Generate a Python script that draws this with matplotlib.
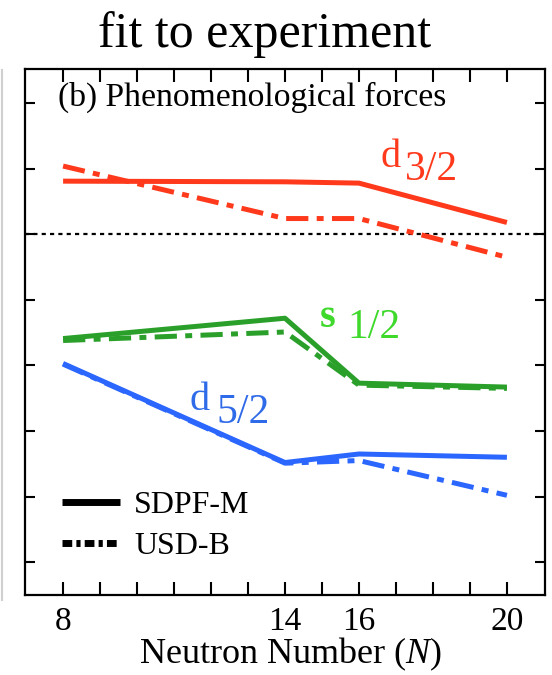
import matplotlib
matplotlib.use("Agg")
import matplotlib.pyplot as plt
from matplotlib.lines import Line2D

plt.rcParams['font.family'] = ['Liberation Serif', 'DejaVu Serif']
plt.rcParams['mathtext.fontset'] = 'custom'
plt.rcParams['mathtext.rm'] = 'Liberation Serif'
plt.rcParams['mathtext.it'] = 'Liberation Serif:italic'
plt.rcParams['lines.scale_dashes'] = False

# data (single-particle energies vs neutron number)
N = [8, 14, 16, 20]
d32_sdpfm = [0.81, 0.80, 0.78, 0.18]
d32_usdb = [1.04, 0.24, 0.24, -0.35]
s12_sdpfm = [-1.59, -1.28, -2.27, -2.33]
s12_usdb = [-1.62, -1.49, -2.30, -2.35]
d52_sdpfm = [-1.97, -3.48, -3.35, -3.40]
d52_usdb = [-1.98, -3.49, -3.45, -3.98]

xticks = list(range(8, 21))
xtick_labels = ['8', '', '', '', '', '', '14', '', '16', '', '', '', '20']
yticks = list(range(-5, 3))

RED = '#ff3a1c'
GREEN = '#2aa02a'
GREEN_TXT = '#3fd92c'
BLUE = '#2b66ff'
BLUE_TXT = '#2f6ae8'

DASHDOT = (0, (16, 6, 5, 6))
LW = 3.6

fig = plt.figure(figsize=(5.52, 6.75), dpi=100)
ax = fig.add_axes([25 / 552, 1 - 595 / 675, 520 / 552, 526 / 675])

ax.axhline(0, color='black', lw=1.6, linestyle=(0, (3, 3)), zorder=1)

ax.plot(N, d32_sdpfm, color=RED, lw=LW, solid_capstyle='butt')
ax.plot(N, d32_usdb, color=RED, lw=LW, linestyle=DASHDOT)
ax.plot(N, s12_sdpfm, color=GREEN, lw=LW, solid_capstyle='butt')
ax.plot(N, s12_usdb, color=GREEN, lw=LW, linestyle=DASHDOT)
ax.plot(N, d52_sdpfm, color=BLUE, lw=LW, solid_capstyle='butt')
ax.plot(N, d52_usdb, color=BLUE, lw=LW, linestyle=DASHDOT)

ax.set_xlim(6.97, 21.03)
ax.set_ylim(-5.5, 2.52)
ax.set_xticks(xticks)
ax.set_xticklabels(xtick_labels)
ax.set_yticks(yticks)
ax.set_yticklabels([])
ax.tick_params(axis='x', direction='in', length=9.5, width=1.5, labelsize=24,
               pad=8, top=True)
ax.tick_params(axis='y', direction='in', length=7, width=1.5, right=True)
for s in ax.spines.values():
    s.set_linewidth(1.6)

# orbit labels
ax.text(16.57, 1.02, 'd', color=RED, fontsize=29)
ax.text(17.25, 0.82, '3/2', color=RED, fontsize=30)
ax.text(14.95, -1.42, 's', color=GREEN_TXT, fontsize=29, fontweight='bold')
ax.text(15.70, -1.585, '1/2', color=GREEN_TXT, fontsize=30)
ax.text(11.43, -2.68, 'd', color=BLUE_TXT, fontsize=29)
ax.text(12.15, -2.88, '5/2', color=BLUE_TXT, fontsize=30)

ax.text(0.063, 0.93, '(b) Phenomenological forces', transform=ax.transAxes,
        fontsize=24.2, va='baseline')

handles = [Line2D([], [], color='black', lw=5, solid_capstyle='butt'),
           Line2D([], [], color='black', lw=5, linestyle=(0, (7, 3, 3, 3)))]
ax.legend(handles, ['SDPF-M', 'USD-B'], loc='center left',
          bbox_to_anchor=(0.072, 0.131), frameon=False, fontsize=23,
          handlelength=1.8, handletextpad=0.45, labelspacing=0.36,
          borderpad=0, borderaxespad=0)

fig.text(0.48, 1 - 47 / 675, 'fit to experiment', ha='center',
         va='baseline', fontsize=36)
fig.text(291 / 552, 1 - 663 / 675, r'Neutron Number ($\it{N}$)', ha='center',
         va='baseline', fontsize=26)

# remnant edge of neighbouring panel
fig.add_artist(Line2D([2 / 552, 2 / 552], [1 - 600 / 675, 1 - 70 / 675],
                      transform=fig.transFigure, color='#d0d0d0', lw=1.5))

fig.savefig('out.png', dpi=100)
